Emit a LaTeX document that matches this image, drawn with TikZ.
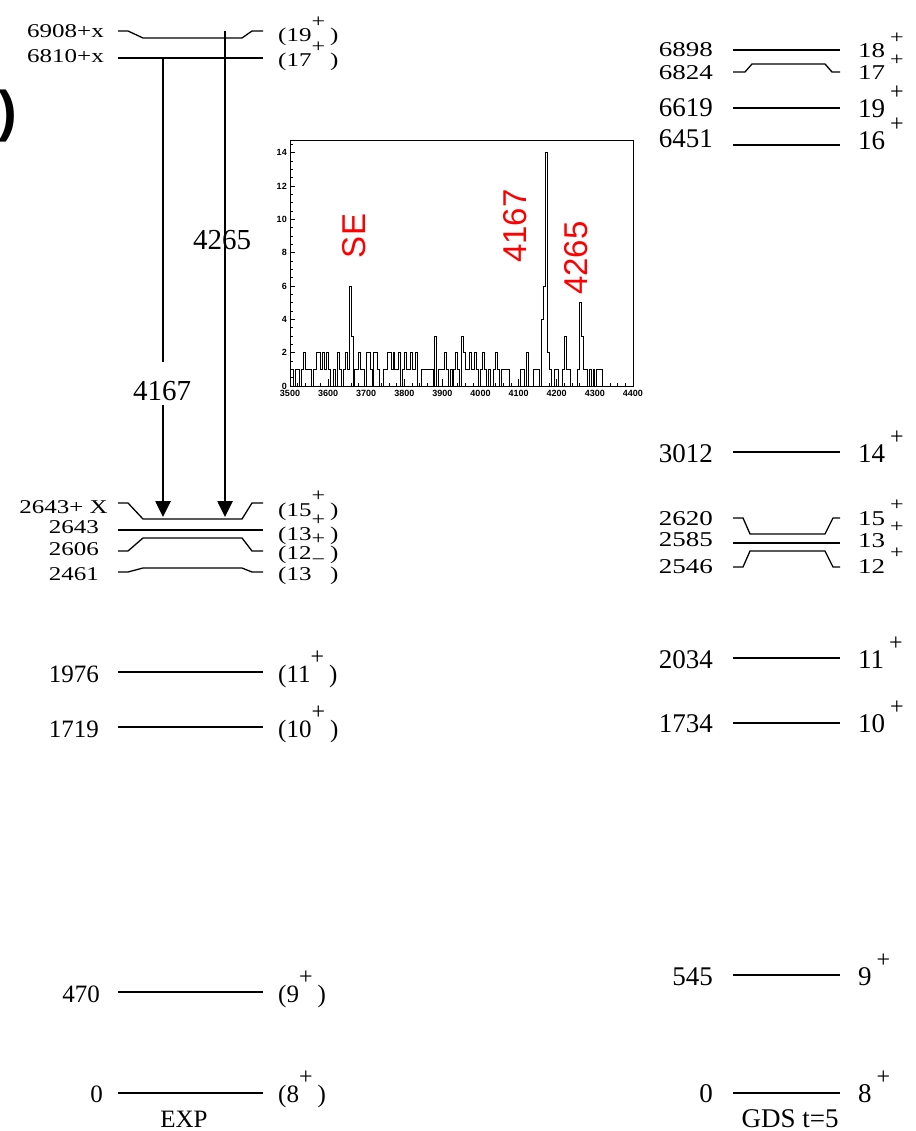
\documentclass[tikz,border=0pt]{standalone}
\usepackage{fontspec}
\setmainfont{Liberation Serif}
\newfontfamily\histfont{Liberation Sans}
\usetikzlibrary{arrows.meta}
\newcommand{\pplus}{\smash{\raisebox{18pt}{\fontsize{24}{24}\selectfont +}}}
\newcommand{\pminus}{\smash{\raisebox{18pt}{\fontsize{24}{24}\selectfont \symbol{"2212}}}}

\begin{document}
\begin{tikzpicture}[
  x=1pt, y=-1pt,
  every node/.style={font=\fontsize{25}{30}\selectfont, inner sep=0pt},
  elab/.style={anchor=base east},
  jlab/.style={anchor=base west},
  tight/.style={yscale=0.78},
  gds/.style={font=\fontsize{27}{32}\selectfont},
  level/.style={line width=2.8pt},
  band/.style={line width=1.3pt},
  gamma/.style={line width=2.6pt, -{Triangle[length=16pt, width=15pt]}},
  glab/.style={font=\fontsize{29}{34}\selectfont, anchor=base},
  peak/.style={font=\histfont\fontsize{33}{33}\selectfont, text=red, rotate=90},
  axlab/.style={font=\histfont\bfseries\fontsize{9}{9}\selectfont},
  frame/.style={line width=0.7pt},
  hist/.style={line width=0.7pt},
]
\useasboundingbox (0,0) rectangle (915,1131);

% cut-off bracket at the left edge
\node[anchor=base east, font=\histfont\bfseries\fontsize{56}{56}\selectfont] (brk) at (17,131) {)};

% EXP levels
\draw[band] (118,31) -- (128,31) -- (143,38) -- (242,38) -- (252,31) -- (263,31);
\draw[level] (118,58) -- (263,58);
\draw[band] (118,503) -- (128,503) -- (143,519) -- (242,519) -- (252,503) -- (263,503);
\draw[level] (118,530) -- (263,530);
\draw[band] (118,551) -- (128,551) -- (143,538) -- (242,538) -- (252,551) -- (263,551);
\draw[band] (118,572) -- (128,572) -- (143,568) -- (242,568) -- (252,572) -- (263,572);
\draw[level] (118,672) -- (263,672);
\draw[level] (118,727) -- (263,727);
\draw[level] (118,992) -- (263,992);
\draw[level] (118,1093) -- (263,1093);

\node[elab, tight] (e6908) at (104,38) {6908+x};
\node[elab, tight] (e6810) at (104,63) {6810+x};
\node[elab, tight] (e2643x) at (108,513) {2643+ X};
\node[elab, tight] (e2643) at (99,533) {2643};
\node[elab, tight] (e2606) at (99,555) {2606};
\node[elab, tight] (e2461) at (99,580) {2461};
\node[elab] (e1976) at (99,682) {1976};
\node[elab] (e1719) at (99,737) {1719};
\node[elab] (e470) at (100,1002) {470};
\node[elab] (e0) at (103,1102) {0};

\node[jlab, tight] (j19) at (278,42) {(19\pplus\kern5pt)};
\node[jlab, tight] (j17) at (278,67) {(17\pplus\kern5pt)};
\node[jlab, tight] (j15) at (278,516) {(15\pplus\kern5pt)};
\node[jlab, tight] (j13a) at (278,540) {(13\pplus\kern5pt)};
\node[jlab, tight] (j12) at (278,559) {(12\pplus\kern5pt)};
\node[jlab, tight] (j13b) at (278,580) {(13\pminus\kern5pt)};
\node[jlab] (j11) at (278,682) {(11\pplus\kern5pt)};
\node[jlab] (j10) at (278,737) {(10\pplus\kern5pt)};
\node[jlab] (j9) at (278,1002) {(9\pplus\kern5pt)};
\node[jlab] (j8) at (278,1102) {(8\pplus\kern5pt)};
\node[anchor=base] (exp) at (184,1127) {EXP};

% gamma transitions
\coordinate (g1top) at (163,58);
\coordinate (g1end) at (163,517);
\node[glab, fill=white, text height=38pt, text depth=5pt] (g1lab) at (162,400) {4167};
\draw[line width=2.6pt] (g1top) -- (g1lab.north -| g1top);
\draw[gamma] (g1lab.south -| g1top) -- (g1end);

\coordinate (g2top) at (225,31);
\coordinate (g2end) at (225,517);
\draw[gamma] (g2top) -- (g2end);
\node[glab] (g2lab) at (222,250) {4265};

% GDS levels
\draw[level] (733,50) -- (840,50);
\draw[band] (733,72) -- (745,72) -- (752,64) -- (825,64) -- (832,72) -- (840,72);
\draw[level] (733,108) -- (840,108);
\draw[level] (733,145) -- (840,145);
\draw[level] (733,452) -- (840,452);
\draw[band] (733,518) -- (743,518) -- (750,534) -- (825,534) -- (833,518) -- (840,518);
\draw[level] (733,543) -- (840,543);
\draw[band] (733,567) -- (743,567) -- (750,551) -- (825,551) -- (833,567) -- (840,567);
\draw[level] (733,658) -- (840,658);
\draw[level] (733,723) -- (840,723);
\draw[level] (733,975) -- (840,975);
\draw[level] (733,1093) -- (840,1093);

\node[elab, gds, tight] (t6898) at (713,57) {6898};
\node[elab, gds, tight] (t6824) at (713,80) {6824};
\node[elab, gds] (t6619) at (713,117) {6619};
\node[elab, gds] (t6451) at (713,148) {6451};
\node[elab, gds] (t3012) at (713,462) {3012};
\node[elab, gds, tight] (t2620) at (713,525) {2620};
\node[elab, gds, tight] (t2585) at (713,546) {2585};
\node[elab, gds, tight] (t2546) at (713,573) {2546};
\node[elab, gds] (t2034) at (713,668) {2034};
\node[elab, gds] (t1734) at (713,732) {1734};
\node[elab, gds] (t545) at (713,985) {545};
\node[elab, gds] (t0) at (713,1102) {0};

\node[jlab, gds, tight] (s18) at (858,58) {18\kern5pt\pplus};
\node[jlab, gds, tight] (s17) at (858,80) {17\kern5pt\pplus};
\node[jlab, gds] (s19) at (858,118) {19\kern5pt\pplus};
\node[jlab, gds] (s16) at (858,150) {16\kern5pt\pplus};
\node[jlab, gds] (s14) at (858,462) {14\kern5pt\pplus};
\node[jlab, gds, tight] (s15) at (858,525) {15\kern5pt\pplus};
\node[jlab, gds, tight] (s13) at (858,547) {13\kern5pt\pplus};
\node[jlab, gds, tight] (s12) at (858,573) {12\kern5pt\pplus};
\node[jlab, gds] (s11) at (858,668) {11\kern5pt\pplus};
\node[jlab, gds] (s10) at (858,732) {10\kern5pt\pplus};
\node[jlab, gds] (s9) at (858,985) {9\kern5pt\pplus};
\node[jlab, gds] (s8) at (858,1102) {8\kern5pt\pplus};
\node[anchor=base, gds] (gds) at (790,1127) {GDS t=5};

% spectrum inset
\begin{scope}[shift={(290,386)}, x=0.381pt, y=16.67pt]
  \draw[frame] (0,0) rectangle (900,14.76);
  \foreach \v in {0.5,1,...,14.5} \draw[frame] (0,\v) -- (7,\v);
  \foreach \v in {0,2,...,14} {
    \draw[frame] (0,\v) -- (14,\v);
    \node[axlab, anchor=east] at (-8,\v) {\v};
  }
  \foreach \e in {0,20,...,900} \draw[frame] (\e,0) -- (\e,0.2);
  \foreach \e [evaluate=\e as \lab using int(3500+\e)] in {0,100,...,900} {
    \draw[frame] (\e,0) -- (\e,0.4);
    \node[axlab, anchor=north] at (\e,-0.25) {\lab};
  }
  \draw[hist] (0,0) \foreach \c [count=\i from 0] in {
    1,1,0,1,1,0,1,2,1,1,1,0,1,1,2,2,1,2,1,2,
    1,0,0,1,0,2,1,0,1,2,1,6,3,0,1,1,2,1,1,0,
    2,2,1,0,2,2,1,0,0,1,1,2,2,1,2,1,1,2,0,1,
    2,1,1,2,1,1,2,0,0,1,1,1,1,1,1,0,3,0,1,1,
    1,2,1,0,1,0,1,2,1,0,3,2,1,1,2,1,1,2,1,0,
    1,2,1,0,1,0,0,1,2,1,0,1,1,1,1,0,0,0,0,0,
    0,1,1,0,2,0,0,0,1,1,1,0,4,6,14,2,1,0,0,1,
    1,0,0,1,3,1,1,0,0,0,0,1,5,3,1,1,0,1,0,1,
    0,1,1,1,0,0,0,0,0,0,0,0,0,0,0,0,0,0,0,0}
    { -- (5*\i,\c) -- (5*\i+5,\c) } -- (900,0);
\end{scope}
\node[peak] (pSE) at (354,236) {SE};
\node[peak] (p4167) at (515,226) {4167};
\node[peak] (p4265) at (576,258) {4265};

\end{tikzpicture}
\end{document}
